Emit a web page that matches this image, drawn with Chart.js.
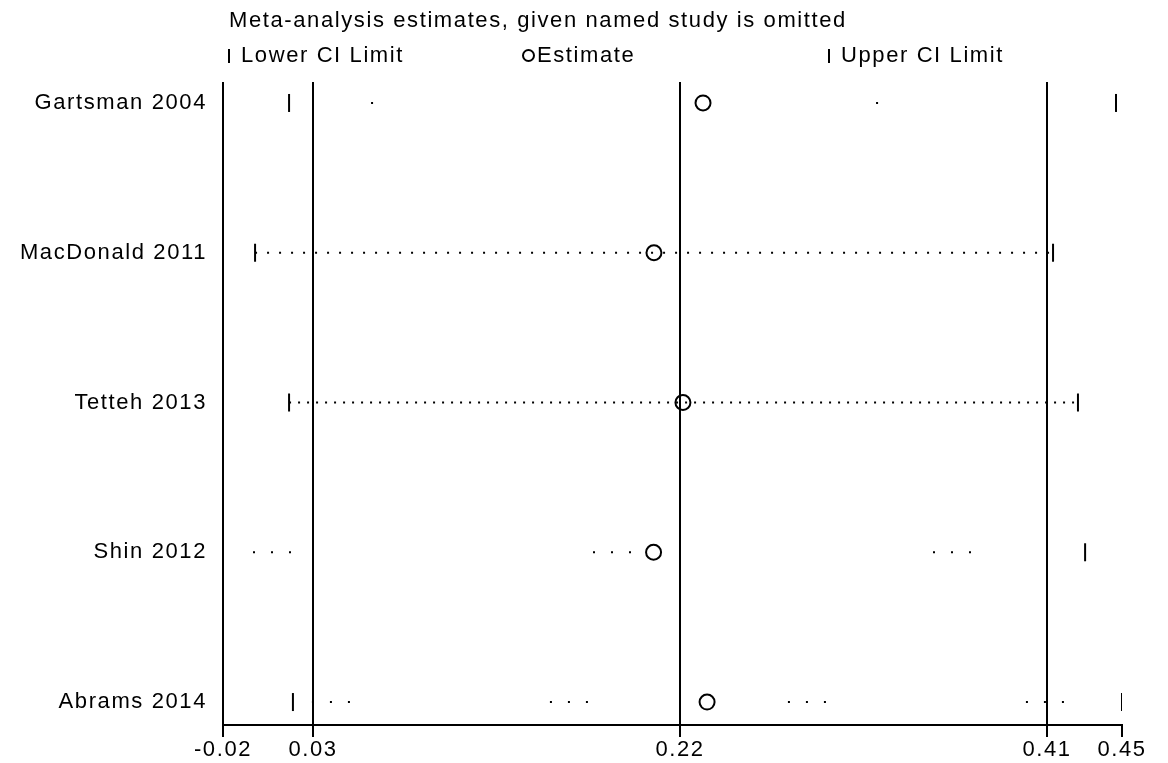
<!DOCTYPE html>
<html>
<head>
<meta charset="utf-8">
<script src="https://cdn.jsdelivr.net/npm/chart.js@4.4.1/dist/chart.umd.min.js"></script>
<style>
  html, body { margin: 0; padding: 0; background: #fff; }
  #wrap { position: relative; width: 1168px; height: 763px; overflow: hidden; }
  #c { position: absolute; left: 0; top: 0; }
  .txt { position: absolute; font-family: 'Liberation Sans', Arial, sans-serif; font-size: 22px; color: #000; white-space: nowrap; letter-spacing: 1.6px; line-height: 24px; }
  .bar { display: inline-block; width: 2px; height: 14px; background: #000; vertical-align: -1px; margin-right: 11px; }
  .circ { display: inline-block; width: 9px; height: 9px; border: 2px solid #000; border-radius: 50%; vertical-align: 0px; margin-right: 2px; }
</style>
</head>
<body>
<div id="wrap">
  <canvas id="c" width="1168" height="763"></canvas>
  <div class="txt" id="title" style="left:229px; top:8px;">Meta-analysis estimates, given named study is omitted</div>
  <div class="txt" style="left:228px; top:43px;"><span class="bar"></span>Lower CI Limit</div>
  <div class="txt" style="left:522px; top:43px;"><span class="circ"></span>Estimate</div>
  <div class="txt" style="left:828px; top:43px;"><span class="bar"></span>Upper CI Limit</div>
</div>
<script>
// ---- data ----
const studies  = ['Gartsman 2004', 'MacDonald 2011', 'Tetteh 2013', 'Shin 2012', 'Abrams 2014'];
const lowerCI  = [0.0176, 0.0000, 0.0176, -0.0166, 0.0196];
const estimate = [0.2319, 0.2065, 0.2215, 0.2063, 0.2340];
const upperCI  = [0.4457, 0.4131, 0.4260, 0.4297, 0.4488];
const tickValues = [-0.0166, 0.03, 0.22, 0.41, 0.4488];
const tickLabels = ['-0.02', '0.03', '0.22', '0.41', '0.45'];

// ---- styles (dotted connector rendering per row) ----
const rowDash   = [[2, 503], [2, 10], [2, 7], [2, 16, 2, 16, 2, 302], [2, 16, 2, 16, 2, 200]];
const rowOffset = [423, 0, 0, 310, 219];

const FONT = { family: "'Liberation Sans', Arial, sans-serif", size: 22 };
const LETTER = '1.6px';

const datasets = [];
datasets.push({
  label: 'Estimate',
  data: studies.map((s, i) => ({ x: estimate[i], y: i + 1 })),
  pointStyle: 'circle', pointRadius: 7.5, borderWidth: 2,
  borderColor: '#000', backgroundColor: 'rgba(0,0,0,0)', showLine: false
});
datasets.push({
  label: 'Lower CI Limit',
  data: studies.map((s, i) => ({ x: lowerCI[i], y: i + 1 })),
  pointStyle: 'line', rotation: 90, pointRadius: 9, borderWidth: 2,
  borderColor: '#000', backgroundColor: '#000', showLine: false
});
datasets.push({
  label: 'Upper CI Limit',
  data: studies.map((s, i) => ({ x: upperCI[i], y: i + 1 })),
  pointStyle: 'line', rotation: 90, pointRadius: 9, borderWidth: 2,
  borderColor: '#000', backgroundColor: '#000', showLine: false
});
studies.forEach((s, i) => {
  datasets.push({
    label: s + ' CI',
    data: [{ x: lowerCI[i], y: i + 1 }, { x: upperCI[i], y: i + 1 }],
    showLine: true, pointRadius: 0, borderWidth: 2, borderColor: '#000',
    borderDash: rowDash[i], borderDashOffset: rowOffset[i], borderCapStyle: 'butt'
  });
});

const spacing = {
  id: 'spacing',
  beforeLayout(chart) { chart.ctx.letterSpacing = LETTER; },
  beforeDraw(chart) { chart.ctx.letterSpacing = LETTER; }
};

new Chart(document.getElementById('c'), {
  type: 'scatter',
  data: { datasets },
  plugins: [spacing],
  options: {
    responsive: false,
    animation: false,
    devicePixelRatio: 1,
    plugins: { legend: { display: false }, tooltip: { enabled: false }, title: { display: false } },
    layout: { padding: { top: 82, right: 46, left: 0, bottom: 0 } },
    scales: {
      x: {
        type: 'linear',
        min: tickValues[0], max: tickValues[tickValues.length - 1],
        afterBuildTicks: (s) => { s.ticks = tickValues.map(v => ({ value: v })); },
        afterFit: (s) => { s.height = 38; },
        ticks: {
          callback: (v, i) => tickLabels[i], autoSkip: false, maxRotation: 0,
          font: FONT, color: '#000', padding: 0
        },
        grid: {
          color: (c) => (c.index === tickValues.length - 1 ? 'rgba(0,0,0,0)' : '#000'),
          tickColor: '#000', lineWidth: 2, tickLength: 12, drawOnChartArea: true
        },
        border: { display: true, color: '#000', width: 2 }
      },
      y: {
        type: 'linear', reverse: true, min: 0.86, max: 5.1533,
        afterBuildTicks: (s) => { s.ticks = studies.map((_, i) => ({ value: i + 1 })); },
        afterFit: (s) => { s.width = 223; },
        ticks: {
          callback: (v) => studies[Math.round(v) - 1], autoSkip: false,
          font: FONT, color: '#000', padding: 16
        },
        grid: { display: false, drawTicks: false },
        border: { display: false }
      }
    }
  }
});
</script>
</body>
</html>
